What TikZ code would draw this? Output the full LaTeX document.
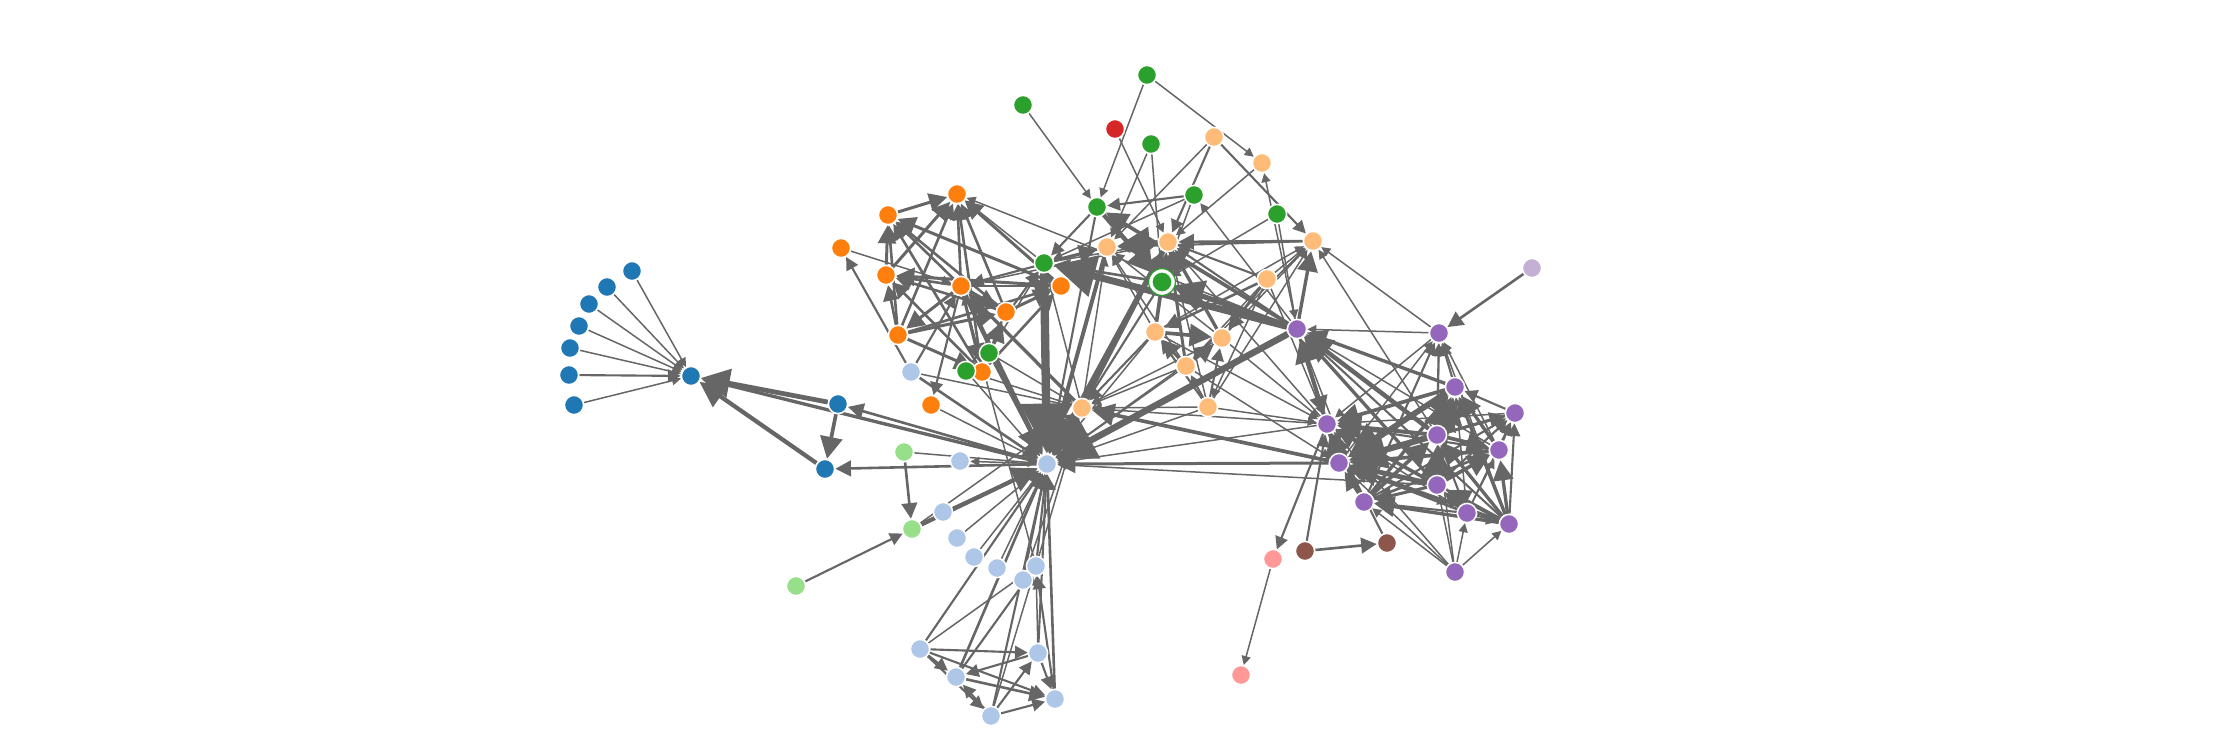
\documentclass[tikz,border=0pt]{standalone}
\usetikzlibrary{arrows.meta}
\definecolor{edgecol}{RGB}{102,102,102}
\definecolor{cA}{RGB}{31,119,180}
\definecolor{cB}{RGB}{174,199,232}
\definecolor{cC}{RGB}{255,127,14}
\definecolor{cD}{RGB}{255,187,120}
\definecolor{cE}{RGB}{44,160,44}
\definecolor{cF}{RGB}{152,223,138}
\definecolor{cG}{RGB}{214,39,40}
\definecolor{cH}{RGB}{255,152,150}
\definecolor{cI}{RGB}{148,103,189}
\definecolor{cJ}{RGB}{197,176,213}
\definecolor{cK}{RGB}{140,86,75}
\pgfdeclarelayer{edgelayer}
\pgfsetlayers{edgelayer,main}
\tikzset{
  nd/.style={circle, inner sep=0pt, minimum size=9.6pt, draw=white, line width=0.75pt},
  ring/.style={circle, inner sep=0pt, minimum size=13.4pt, draw=cE, fill=white, line width=0.6pt},
  edgeline/.style={draw=edgecol, -{Triangle[length=0pt 6, width=0pt 6]}}
}
\begin{document}
\begin{tikzpicture}[x=0.5pt, y=-0.5pt]
\useasboundingbox (0,0) rectangle (2223,741);
% group 1
\node[nd, fill=cA] (Myriel) at (691,376) {};
\node[nd, fill=cA] (Napoleon) at (632,271) {};
\node[nd, fill=cA] (CountessdeLo) at (607,287) {};
\node[nd, fill=cA] (Geborand) at (589,304) {};
\node[nd, fill=cA] (Champtercier) at (579,326) {};
\node[nd, fill=cA] (Cravatte) at (570,348) {};
\node[nd, fill=cA] (Count) at (569,375) {};
\node[nd, fill=cA] (OldMan) at (574,405) {};
\node[nd, fill=cA] (Magloire) at (838,404) {};
\node[nd, fill=cA] (Baptistine) at (825,469) {};
% group 2
\node[nd, fill=cB] (Valjean) at (1047,464) {};
\node[nd, fill=cB] (Labarre) at (960,461) {};
\node[nd, fill=cB] (MmedeR) at (943,512) {};
\node[nd, fill=cB] (Isabeau) at (957,538) {};
\node[nd, fill=cB] (Gervais) at (974,557) {};
\node[nd, fill=cB] (Scaufflaire) at (997,568) {};
\node[nd, fill=cB] (Woman1) at (1023,580) {};
\node[nd, fill=cB] (Simplice) at (911,372) {};
\node[nd, fill=cB] (Bamatabois) at (1036,566) {};
\node[nd, fill=cB] (Judge) at (1055,699) {};
\node[nd, fill=cB] (Champmathieu) at (956,677) {};
\node[nd, fill=cB] (Brevet) at (1038,653) {};
\node[nd, fill=cB] (Chenildieu) at (991,716) {};
\node[nd, fill=cB] (Cochepaille) at (920,649) {};
% group 3
\node[nd, fill=cC] (Marguerite) at (931,405) {};
\node[nd, fill=cC] (Tholomyes) at (957,194) {};
\node[nd, fill=cC] (Listolier) at (888,215) {};
\node[nd, fill=cC] (Fameuil) at (886,275) {};
\node[nd, fill=cC] (Blacheville) at (1061,286) {};
\node[nd, fill=cC] (Favourite) at (1006,312) {};
\node[nd, fill=cC] (Dahlia) at (982,372) {};
\node[nd, fill=cC] (Zephine) at (898,335) {};
\node[nd, fill=cC] (Fantine) at (961,286) {};
\node[nd, fill=cC] (Perpetue) at (841,248) {};
% group 4
\node[nd, fill=cD] (MmeThenardier) at (1107,247) {};
\node[nd, fill=cD] (Thenardier) at (1168,242) {};
\node[nd, fill=cD] (Javert) at (1082,408) {};
\node[nd, fill=cD] (Pontmercy) at (1262,163) {};
\node[nd, fill=cD] (Eponine) at (1313,241) {};
\node[nd, fill=cD] (Anzelma) at (1214,137) {};
\node[nd, fill=cD] (Gueulemer) at (1222,338) {};
\node[nd, fill=cD] (Babet) at (1155,332) {};
\node[nd, fill=cD] (Claquesous) at (1186,366) {};
\node[nd, fill=cD] (Montparnasse) at (1208,407) {};
\node[nd, fill=cD] (Brujon) at (1267,279) {};
% group 5
\node[nd, fill=cE] (Woman2) at (989,353) {};
\node[nd, fill=cE] (Toussaint) at (966,371) {};
\node[nd, fill=cE] (Cosette) at (1044,263) {};
\node[ring] (GillenormandRing) at (1162,282) {};
\node[nd, fill=cE, minimum size=10.2pt] (Gillenormand) at (1162,282) {};
\node[nd, fill=cE] (Magnon) at (1151,144) {};
\node[nd, fill=cE] (MlleGillenormand) at (1097,207) {};
\node[nd, fill=cE] (MmePontmercy) at (1147,75) {};
\node[nd, fill=cE] (MlleVaubois) at (1023,105) {};
\node[nd, fill=cE] (LtGillenormand) at (1194,195) {};
\node[nd, fill=cE] (BaronessT) at (1277,214) {};
% group 0
\node[nd, fill=cF] (Fauchelevent) at (912,529) {};
\node[nd, fill=cF] (MotherInnocent) at (904,452) {};
\node[nd, fill=cF] (Gribier) at (796,586) {};
% others
\node[nd, fill=cG] (Boulatruelle) at (1115,129) {};
\node[nd, fill=cH] (Jondrette) at (1241,675) {};
\node[nd, fill=cH] (MmeBurgon) at (1273,559) {};
\node[nd, fill=cJ] (MotherPlutarch) at (1532,268) {};
\node[nd, fill=cK] (Child1) at (1387,543) {};
\node[nd, fill=cK] (Child2) at (1305,551) {};
% group 8
\node[nd, fill=cI] (Gavroche) at (1327,424) {};
\node[nd, fill=cI] (Marius) at (1297,329) {};
\node[nd, fill=cI] (Mabeuf) at (1439,333) {};
\node[nd, fill=cI] (Enjolras) at (1339,463) {};
\node[nd, fill=cI] (Combeferre) at (1455,387) {};
\node[nd, fill=cI] (Prouvaire) at (1515,413) {};
\node[nd, fill=cI] (Feuilly) at (1499,450) {};
\node[nd, fill=cI] (Courfeyrac) at (1437,435) {};
\node[nd, fill=cI] (Bahorel) at (1364,502) {};
\node[nd, fill=cI] (Bossuet) at (1437,485) {};
\node[nd, fill=cI] (Joly) at (1509,524) {};
\node[nd, fill=cI] (Grantaire) at (1467,513) {};
\node[nd, fill=cI] (MmeHucheloup) at (1455,572) {};

\begin{pgfonlayer}{edgelayer}
\foreach \s/\t/\v in {Napoleon/Myriel/1, Baptistine/Myriel/8, Magloire/Myriel/10, Magloire/Baptistine/6, CountessdeLo/Myriel/1, Geborand/Myriel/1, Champtercier/Myriel/1, Cravatte/Myriel/1, Count/Myriel/2, OldMan/Myriel/1, Valjean/Labarre/1, Valjean/Magloire/3, Valjean/Baptistine/3, Valjean/Myriel/5, Marguerite/Valjean/1, MmedeR/Valjean/1, Isabeau/Valjean/1, Gervais/Valjean/1, Listolier/Tholomyes/4, Fameuil/Tholomyes/4, Fameuil/Listolier/4, Blacheville/Tholomyes/4, Blacheville/Listolier/4, Blacheville/Fameuil/4, Favourite/Tholomyes/3, Favourite/Listolier/3, Favourite/Fameuil/3, Favourite/Blacheville/4, Dahlia/Listolier/3, Dahlia/Fameuil/3, Dahlia/Blacheville/3, Dahlia/Favourite/5, Dahlia/Tholomyes/3, Zephine/Listolier/3, Zephine/Fameuil/3, Zephine/Blacheville/3, Zephine/Favourite/4, Zephine/Dahlia/4, Zephine/Tholomyes/3, Fantine/Listolier/3, Fantine/Fameuil/3, Fantine/Blacheville/3, Fantine/Favourite/4, Fantine/Dahlia/4, Fantine/Zephine/4, Fantine/Marguerite/2, Fantine/Tholomyes/3, Fantine/Valjean/9}
{\pgfmathsetmacro\lw{0.75*sqrt(\v)}\draw[edgeline, line width=\lw pt] (\s) -- (\t);}
\foreach \s/\t/\v in {MmeThenardier/Fantine/2, MmeThenardier/Valjean/7, Thenardier/MmeThenardier/13, Thenardier/Fantine/1, Thenardier/Valjean/12, Cosette/MmeThenardier/4, Cosette/Valjean/31, Cosette/Tholomyes/1, Cosette/Thenardier/1, Javert/Valjean/17, Javert/Fantine/5, Javert/Thenardier/5, Javert/MmeThenardier/1, Javert/Cosette/1, Fauchelevent/Valjean/8, Fauchelevent/Javert/1, Bamatabois/Fantine/1, Bamatabois/Javert/1, Bamatabois/Valjean/2, Perpetue/Fantine/1, Simplice/Perpetue/2, Simplice/Valjean/3, Simplice/Fantine/2, Simplice/Javert/1, Scaufflaire/Valjean/1, Woman1/Valjean/2, Woman1/Javert/1, Judge/Valjean/3, Judge/Bamatabois/2, Champmathieu/Valjean/3, Champmathieu/Judge/3, Champmathieu/Bamatabois/2, Brevet/Judge/2, Brevet/Champmathieu/2, Brevet/Valjean/2, Brevet/Bamatabois/1, Chenildieu/Judge/2, Chenildieu/Champmathieu/2, Chenildieu/Brevet/2, Chenildieu/Valjean/2, Chenildieu/Bamatabois/1, Cochepaille/Judge/2, Cochepaille/Champmathieu/2, Cochepaille/Brevet/2, Cochepaille/Chenildieu/2, Cochepaille/Valjean/2, Cochepaille/Bamatabois/1}
{\pgfmathsetmacro\lw{0.75*sqrt(\v)}\draw[edgeline, line width=\lw pt] (\s) -- (\t);}
\foreach \s/\t/\v in {Pontmercy/Thenardier/1, Boulatruelle/Thenardier/1, Eponine/MmeThenardier/2, Eponine/Thenardier/3, Anzelma/Eponine/2, Anzelma/Thenardier/2, Anzelma/MmeThenardier/1, Woman2/Valjean/3, Woman2/Cosette/1, Woman2/Javert/1, MotherInnocent/Fauchelevent/3, MotherInnocent/Valjean/1, Gribier/Fauchelevent/2, MmeBurgon/Jondrette/1, Gavroche/MmeBurgon/2, Gavroche/Thenardier/1, Gavroche/Javert/1, Gavroche/Valjean/1, Gillenormand/Cosette/3, Gillenormand/Valjean/2, Magnon/Gillenormand/1, Magnon/MmeThenardier/1, MlleGillenormand/Gillenormand/9, MlleGillenormand/Cosette/2, MlleGillenormand/Valjean/2, MmePontmercy/MlleGillenormand/1, MmePontmercy/Pontmercy/1, MlleVaubois/MlleGillenormand/1, LtGillenormand/MlleGillenormand/2, LtGillenormand/Gillenormand/1, LtGillenormand/Cosette/1, Marius/MlleGillenormand/6, Marius/Gillenormand/12, Marius/Pontmercy/1, Marius/LtGillenormand/1, Marius/Cosette/21, Marius/Valjean/19, Marius/Tholomyes/1, Marius/Thenardier/2, Marius/Eponine/5, Marius/Gavroche/4, BaronessT/Gillenormand/1, BaronessT/Marius/1, Mabeuf/Marius/1, Mabeuf/Eponine/1, Mabeuf/Gavroche/1}
{\pgfmathsetmacro\lw{0.75*sqrt(\v)}\draw[edgeline, line width=\lw pt] (\s) -- (\t);}
\foreach \s/\t/\v in {Enjolras/Marius/7, Enjolras/Gavroche/7, Enjolras/Javert/6, Enjolras/Mabeuf/1, Enjolras/Valjean/4, Combeferre/Enjolras/15, Combeferre/Marius/5, Combeferre/Gavroche/6, Combeferre/Mabeuf/2, Prouvaire/Gavroche/1, Prouvaire/Enjolras/4, Prouvaire/Combeferre/2, Feuilly/Gavroche/2, Feuilly/Enjolras/6, Feuilly/Prouvaire/2, Feuilly/Combeferre/5, Feuilly/Mabeuf/1, Feuilly/Marius/1, Courfeyrac/Marius/9, Courfeyrac/Enjolras/17, Courfeyrac/Combeferre/13, Courfeyrac/Gavroche/7, Courfeyrac/Mabeuf/2, Courfeyrac/Eponine/1, Courfeyrac/Feuilly/6, Courfeyrac/Prouvaire/3, Bahorel/Combeferre/5, Bahorel/Gavroche/5, Bahorel/Courfeyrac/6, Bahorel/Mabeuf/2, Bahorel/Enjolras/4, Bahorel/Feuilly/3, Bahorel/Prouvaire/2, Bahorel/Marius/1, Bossuet/Marius/5, Bossuet/Courfeyrac/12, Bossuet/Gavroche/5, Bossuet/Bahorel/4, Bossuet/Enjolras/10, Bossuet/Feuilly/6, Bossuet/Prouvaire/2, Bossuet/Combeferre/9, Bossuet/Mabeuf/1, Bossuet/Valjean/1}
{\pgfmathsetmacro\lw{0.75*sqrt(\v)}\draw[edgeline, line width=\lw pt] (\s) -- (\t);}
\foreach \s/\t/\v in {Joly/Bahorel/5, Joly/Bossuet/7, Joly/Gavroche/3, Joly/Courfeyrac/5, Joly/Enjolras/5, Joly/Feuilly/5, Joly/Prouvaire/2, Joly/Combeferre/5, Joly/Mabeuf/1, Joly/Marius/2, Grantaire/Bossuet/3, Grantaire/Enjolras/3, Grantaire/Combeferre/1, Grantaire/Courfeyrac/2, Grantaire/Joly/2, Grantaire/Gavroche/1, Grantaire/Bahorel/2, Grantaire/Feuilly/1, Grantaire/Prouvaire/1, MotherPlutarch/Mabeuf/3, Gueulemer/Thenardier/5, Gueulemer/Valjean/1, Gueulemer/MmeThenardier/1, Gueulemer/Javert/1, Gueulemer/Gavroche/1, Gueulemer/Eponine/1, Babet/Thenardier/6, Babet/Gueulemer/6, Babet/Valjean/1, Babet/MmeThenardier/1, Babet/Javert/2, Babet/Gavroche/1, Babet/Eponine/1}
{\pgfmathsetmacro\lw{0.75*sqrt(\v)}\draw[edgeline, line width=\lw pt] (\s) -- (\t);}
\foreach \s/\t/\v in {Claquesous/Thenardier/4, Claquesous/Babet/4, Claquesous/Gueulemer/4, Claquesous/Valjean/1, Claquesous/MmeThenardier/1, Claquesous/Javert/1, Claquesous/Eponine/1, Claquesous/Enjolras/1, Montparnasse/Javert/1, Montparnasse/Babet/2, Montparnasse/Gueulemer/2, Montparnasse/Claquesous/2, Montparnasse/Valjean/1, Montparnasse/Gavroche/1, Montparnasse/Eponine/1, Montparnasse/Thenardier/1, Toussaint/Cosette/2, Toussaint/Javert/1, Toussaint/Valjean/1, Child1/Gavroche/2, Child2/Gavroche/2, Child2/Child1/3, Brujon/Babet/3, Brujon/Gueulemer/3, Brujon/Thenardier/2, Brujon/Gavroche/1, Brujon/Eponine/1, Brujon/Claquesous/1, Brujon/Montparnasse/1, MmeHucheloup/Bossuet/1, MmeHucheloup/Joly/1, MmeHucheloup/Grantaire/1, MmeHucheloup/Bahorel/1, MmeHucheloup/Courfeyrac/1, MmeHucheloup/Gavroche/1, MmeHucheloup/Enjolras/1}
{\pgfmathsetmacro\lw{0.75*sqrt(\v)}\draw[edgeline, line width=\lw pt] (\s) -- (\t);}
\end{pgfonlayer}
\end{tikzpicture}
\end{document}
